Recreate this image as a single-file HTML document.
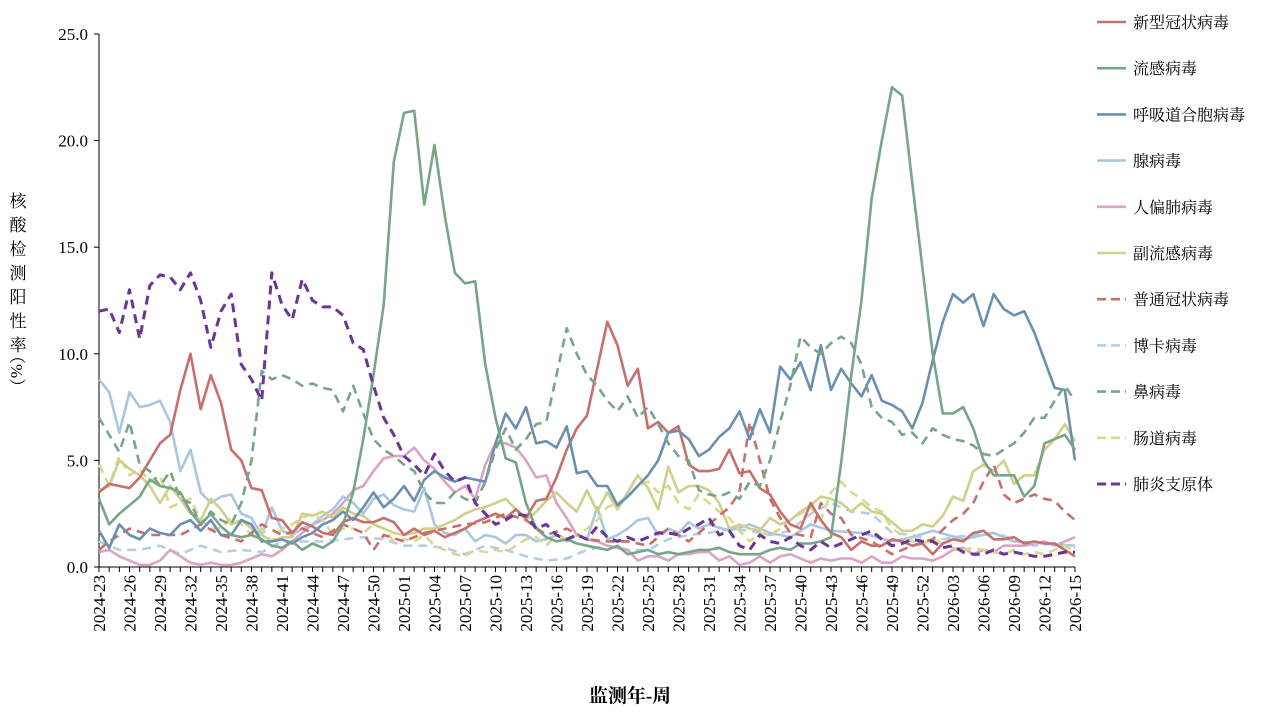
<!DOCTYPE html>
<html><head><meta charset="utf-8"><style>
html,body{margin:0;padding:0;background:#fff;}
svg text{font-family:"Liberation Serif","Noto Serif CJK SC",serif;}
</style></head><body>
<svg id="c" width="1270" height="714" xmlns="http://www.w3.org/2000/svg"></svg>
<script>
const S=document.getElementById('c');
const X0=99,DX=(1075-99)/96,Y0=567,DY=(567-34)/25;
const px=i=>X0+i*DX, py=v=>Y0-v*DY;
let h='';
h+=`<line x1="${X0}" y1="34" x2="${X0}" y2="567" stroke="#000" stroke-width="1"/>`;
h+=`<line x1="${X0}" y1="567" x2="1075" y2="567" stroke="#000" stroke-width="1"/>`;
for(let k=0;k<=5;k++){const y=py(k*5);h+=`<line x1="${X0-5}" y1="${y}" x2="${X0}" y2="${y}" stroke="#000"/>`;
h+=`<text x="${X0-11}" y="${y+6}" font-size="17" text-anchor="end">${(k*5).toFixed(1)}</text>`;}
for(let i=0;i<=96;i++){const x=px(i);h+=`<line x1="${x}" y1="567" x2="${x}" y2="572" stroke="#000"/>`;}
function lab(i){let y,w;if(i<30){y=2024;w=23+i}else if(i<82){y=2025;w=i-29}else{y=2026;w=i-81}return y+'-'+String(w).padStart(2,'0');}
for(let i=0;i<=96;i+=3){const x=px(i)+6;h+=`<text transform="translate(${x},575) rotate(-90)" font-size="17" text-anchor="end">${lab(i)}</text>`;}
[...'核酸检测阳性率'].forEach((c,k)=>{h+=`<text x="18" y="${207+k*24}" font-size="17" text-anchor="middle">${c}</text>`;});
h+=`<text transform="translate(11,347) rotate(90)" font-size="17">（%）</text>`;
h+=`<text x="630" y="702" font-size="19" text-anchor="middle" font-weight="bold">监测年-周</text>`;
function kf(pairs){const p=[];for(let k=0;k<pairs.length;k+=2)p.push([pairs[k],pairs[k+1]]);const out=[];for(let i=0;i<=96;i++){let j=0;while(j<p.length-1&&p[j+1][0]<i)j++;const a=p[j],b=p[Math.min(j+1,p.length-1)];if(i<=a[0]){out.push(a[1]);continue;}if(b[0]===a[0]){out.push(a[1]);continue;}out.push(a[1]+(b[1]-a[1])*(i-a[0])/(b[0]-a[0]));}return out;}
const D={
red:kf([0,3.5,1,3.9,2,3.8,3,3.7,4,4.2,5,5,6,5.8,7,6.2,8,8.3,9,10,10,7.4,11,9,12,7.7,13,5.5,14,5,15,3.7,16,3.6,17,2.3,18,2.2,19,1.6,20,2.1,21,1.9,22,1.6,23,1.5,24,2.1,25,2.3,26,2.1,27,2.1,28,2.3,29,2.1,30,1.5,31,1.8,32,1.5,33,1.7,34,1.4,35,1.6,36,1.8,37,2.1,38,2.3,39,2.5,40,2.3,41,2.7,42,2.3,43,3.1,44,3.2,45,4.2,46,5.5,47,6.5,48,7.1,49,9.3,50,11.5,51,10.4,52,8.5,53,9.3,54,6.5,55,6.8,56,6.3,57,6.6,58,4.8,59,4.5,60,4.5,61,4.6,62,5.5,63,4.4,64,4.5,65,3.7,66,3.4,67,2.6,68,2,69,1.8,70,3,71,2.2,72,1.6,73,1.4,74,0.8,75,1.2,76,1,77,1,78,1.3,79,1.2,80,1,81,1.1,82,0.6,83,1.1,84,1.3,85,1.2,86,1.6,87,1.7,88,1.3,89,1.3,90,1.4,91,1.1,92,1.2,93,1.1,94,1.1,95,0.8,96,0.5]),
flu:kf([0,3.2,1,2,2,2.5,3,2.9,4,3.3,5,4.1,6,3.8,7,3.7,8,3.5,9,2.6,10,2,11,2.5,12,1.9,13,1.5,14,1.4,15,1.5,16,1.3,17,1,18,0.9,19,1.2,20,0.8,21,1.1,22,0.9,23,1.2,24,2,25,3.5,26,6,27,9,28,12.3,29,19,30,21.3,31,21.4,32,17,33,19.8,34,16.5,35,13.8,36,13.3,37,13.4,38,9.5,39,7,40,5.1,41,4.9,42,3,43,1.8,44,1.4,45,1.2,46,1.3,47,1.1,48,1,49,0.9,50,0.8,51,1,52,0.6,53,0.7,54,0.8,55,0.6,56,0.7,57,0.6,58,0.7,59,0.8,60,0.8,61,0.9,62,0.7,63,0.6,64,0.6,65,0.6,66,0.8,67,0.9,68,0.8,69,1.1,70,1.1,71,1.2,72,1.4,73,4.9,74,9,75,12.5,76,17.3,77,20,78,22.5,79,22.1,80,18,81,14,82,10,83,7.2,84,7.2,85,7.5,86,6.5,87,5,88,4.3,89,4.3,90,4.3,91,3.3,92,3.8,93,5.8,94,6,95,6.2,96,5.5]),
rsv:kf([0,1.7,1,0.9,2,2,3,1.5,4,1.3,5,1.8,6,1.6,7,1.5,8,2,9,2.2,10,1.7,11,2.2,12,1.5,13,1.5,14,2.2,15,2,16,1.2,17,1.2,18,1.3,19,1.1,20,1.4,21,1.6,22,2,23,2.2,24,2.6,25,2.2,26,2.8,27,3.5,28,2.8,29,3.2,30,3.8,31,3.1,32,4.1,33,4.5,34,4.2,35,4,36,4.2,37,4.1,38,4,39,5.8,40,7.2,41,6.5,42,7.5,43,5.8,44,5.9,45,5.6,46,6.6,47,4.4,48,4.5,49,3.8,50,3.8,51,2.9,52,3.3,53,3.8,54,4.3,55,5,56,6.3,57,6.4,58,6,59,5.2,60,5.5,61,6.1,62,6.5,63,7.3,64,6,65,7.4,66,6.3,67,9.4,68,8.8,69,9.6,70,8.3,71,10.4,72,8.3,73,9.3,74,8.6,75,8,76,9,77,7.8,78,7.6,79,7.3,80,6.5,81,7.7,82,9.7,83,11.5,84,12.8,85,12.4,86,12.8,87,11.3,88,12.8,89,12.1,90,11.8,91,12,92,11,93,9.7,94,8.4,95,8.3,96,5.0]),
adv:kf([0,8.8,1,8.2,2,6.3,3,8.2,4,7.5,5,7.6,6,7.8,7,6.8,8,4.5,9,5.5,10,3.5,11,3,12,3.3,13,3.4,14,2.5,15,2.3,16,1.5,17,2.8,18,1.7,19,1.5,20,1.8,21,2,22,2.4,23,2.7,24,3.3,25,3,26,2.5,27,3.2,28,3.4,29,2.9,30,2.7,31,2.6,32,3.7,33,2,34,1.6,35,1.5,36,1.8,37,1.2,38,1.5,39,1.4,40,1.1,41,1.5,42,1.5,43,1.2,44,1.3,45,1.5,46,1.2,47,1.5,48,1.3,49,2.8,50,1.3,51,1.5,52,1.8,53,2.2,54,2.3,55,1.5,56,1.8,57,1.6,58,2.1,59,1.8,60,2,62,1.7,64,2,66,1.6,68,1.4,70,2,72,1.7,75,1.6,78,1.2,80,1.4,82,1.7,85,1.3,88,1.6,90,1.2,93,1.1,96,1]),
hmpv:kf([0,0.7,1,0.8,2,0.5,3,0.3,4,0.1,5,0.1,6,0.3,7,0.8,8,0.5,9,0.2,10,0.1,11,0.2,12,0.1,13,0.1,14,0.2,15,0.4,16,0.6,17,0.5,18,0.8,19,1.2,20,1.6,21,2,22,2.2,23,2.5,24,3,25,3.6,26,3.8,27,4.5,28,5.1,29,5.2,30,5.2,31,5.6,32,5,33,4.6,34,4,35,3.5,36,3.8,37,3.2,38,4.8,39,5.8,40,5.8,41,5.6,42,5,43,4.2,44,4.3,45,3,46,2.3,47,1.5,48,1.3,49,1.2,50,1,51,0.9,52,0.8,53,0.3,54,0.5,55,0.5,56,0.3,57,0.6,58,0.6,59,0.7,60,0.7,61,0.3,62,0.5,63,0.1,64,0.2,65,0.5,66,0.2,67,0.5,68,0.6,70,0.2,71,0.4,72,0.3,73,0.4,74,0.4,75,0.2,76,0.5,77,0.2,78,0.2,79,0.5,80,0.4,81,0.4,82,0.3,83,0.5,84,0.8,85,0.9,86,0.6,87,0.8,88,0.7,89,1,90,1,91,1,92,1.1,93,1.2,94,1,95,1.2,96,1.4]),
piv:kf([0,3.6,1,3.8,2,5,3,4.6,4,4.3,5,3.8,6,3,7,3.8,8,3.2,9,2.5,10,2.2,11,3.2,12,2.7,13,2,14,2.2,15,1.8,16,1.5,17,1.2,18,1.4,19,1.4,20,2.5,21,2.4,22,2.6,23,2.3,24,2.8,25,2.5,26,2.4,27,2,28,1.8,29,1.6,30,1.5,31,1.6,32,1.8,33,1.8,34,2,35,2.2,36,2.5,37,2.7,38,2.8,39,3,40,3.2,41,2.7,42,2.2,43,2.6,44,3.1,45,3.5,46,3,47,2.6,48,3.6,49,2.6,50,3.5,51,2.7,52,3.5,53,4.3,54,3.7,55,2.7,56,4.7,57,3.5,58,3.8,59,3.8,60,3.6,61,3,62,1.8,63,2,64,1.8,65,1.7,66,2.3,67,2,68,2.2,69,2.6,70,2.9,71,3.3,72,3.2,73,3,74,2.6,75,3,76,2.6,77,2.5,78,2.1,79,1.7,80,1.7,81,2,82,1.9,83,2.4,84,3.3,85,3.1,86,4.5,87,4.8,88,4.5,89,5,90,3.9,91,4.3,92,4.3,93,5.5,94,6,95,6.7,96,5.9]),
hcov:kf([0,0.8,1,1.2,3,1.8,5,1.5,8,1.5,10,2,12,1.5,14,1.2,16,2,18,1.5,20,1.8,22,1.4,24,2,26,1.6,27,0.8,28,1.5,30,1.2,32,1.6,34,1.8,36,2,38,2.1,40,2.5,42,2.2,44,1.5,46,1.8,48,1.3,50,1.2,52,1.2,54,1,56,1.8,58,1.2,60,2,62,2.8,63,3.5,64,6.8,65,5,66,3.2,67,2.3,68,1.6,70,1.4,71,3,72,2.5,73,2.3,74,1.5,76,1.2,78,0.6,80,1,82,1.3,84,2.2,85,2.5,86,3,87,4,88,4.8,89,3.4,90,3,91,3.2,92,3.4,93,3.2,94,3.1,95,2.6,96,2.2]),
boca:kf([0,1.2,2,0.8,4,0.8,6,1,8,0.6,10,1,12,0.7,14,0.8,16,0.7,18,1.2,20,1.2,22,1.2,24,1.3,26,1.4,28,1.3,30,1,32,1,34,0.9,36,0.6,38,1,40,0.8,42,0.5,44,0.3,46,0.4,48,0.8,50,1,52,0.8,54,0.8,56,1.3,58,1.5,60,1.6,62,1.8,64,1.7,66,1.5,68,1.7,70,2.5,72,3,74,2.6,76,2.5,78,1.6,80,1.5,82,1.2,84,1.4,86,1.5,88,1.6,90,1.3,92,1,94,1.1,96,0.9]),
rhino:kf([0,7,1,6.2,2,5.4,3,6.8,4,4.8,5,4.5,6,3.8,7,4.5,8,3.2,9,3,10,2,11,2.6,12,2.2,13,2,14,3,15,5,16,9.2,17,8.8,18,9,19,8.8,20,8.5,21,8.6,22,8.4,23,8.3,24,7.3,25,8.5,26,7.2,27,6,28,5.5,29,5.2,30,4.8,31,4.5,32,3.5,33,3,34,3,35,3.5,36,3.2,37,3,38,4,39,5.5,40,6.5,41,5.5,42,6,43,6.7,44,6.8,45,9,46,11.2,47,10,48,9,49,8.5,50,7.8,51,7.3,52,8,53,7,54,7.5,55,6.7,56,5.8,57,5.2,58,5,59,3.6,60,3.4,61,3.3,62,3.5,63,3.2,64,4,65,3.8,66,5,67,6.8,68,8.5,69,10.8,70,10.3,71,10,72,10.5,73,10.8,74,10.5,75,9.5,76,7.5,77,7,78,6.8,79,6.2,80,6.3,81,5.8,82,6.5,83,6.2,84,6,85,5.9,86,5.7,87,5.3,88,5.2,89,5.5,90,5.8,91,6.3,92,7,93,7,94,7.8,95,8.5,96,7.8]),
ev:kf([0,4.8,1,3.8,2,5.2,3,4.3,4,4.6,5,4,6,4.3,7,2.8,8,3,9,3.2,10,2.2,11,1.8,12,1.8,13,2.3,14,2,15,1.5,16,1.8,17,1.2,18,1.8,19,2,20,2.3,21,2.5,22,2.2,23,1.5,24,1.8,25,1.8,26,1.6,27,2,28,1.8,29,1.2,30,1.3,31,1.2,32,1.5,33,1,34,0.8,35,0.6,36,0.5,37,0.8,38,0.7,39,0.8,40,0.7,41,1,42,1.3,43,1.4,44,1,45,1.5,46,1.3,47,1.5,48,1.8,49,2.2,50,2.8,51,3,52,3.3,53,3.8,54,4,55,3.5,56,3.8,57,3,58,2.7,59,3.4,60,3,61,2.6,62,2.3,63,1.7,64,1.2,65,1.6,66,1.5,67,1.8,68,2.2,69,2.5,70,2.8,71,2.2,72,3.5,73,4,74,3.5,75,3.2,76,2.8,77,2.6,78,1.8,79,1.5,80,1.2,81,1.1,82,1.3,83,1.1,84,0.9,85,0.8,86,0.9,87,0.8,88,0.7,89,0.6,90,0.8,91,0.6,92,0.7,93,0.6,94,0.8,95,1,96,0.7]),
mp:kf([0,12,1,12.1,2,11,3,13,4,10.7,5,13.2,6,13.7,7,13.6,8,13,9,13.8,10,12.5,11,10.3,12,12,13,12.8,14,9.5,15,8.8,16,7.8,17,13.8,18,12.3,19,11.6,20,13.5,21,12.5,22,12.2,23,12.2,24,11.8,25,10.5,26,10.2,27,8.5,28,7,29,6.2,30,5.2,31,4.8,32,4.3,33,5.3,34,4.5,35,4,36,4.2,37,3,38,2.5,39,2,40,2.2,41,2.5,42,2.4,43,1.8,44,2,45,1.5,46,1.3,47,1.5,48,1.3,49,1.9,50,1.4,51,1.2,52,1.4,53,1.2,54,1.4,55,1.6,56,1.6,57,1.5,58,1.8,59,2,60,2.3,61,1.5,62,1.7,63,1,64,0.8,65,1.5,66,1.2,67,1.1,68,1.4,69,1,70,0.8,71,1.2,72,0.9,73,1.1,74,1.3,75,1.5,76,1.7,77,1.3,78,1,79,1.1,80,1.3,81,1.2,82,1.2,83,0.9,84,1,85,0.7,86,0.6,87,0.6,88,0.8,89,0.6,90,0.7,91,0.6,92,0.5,93,0.5,94,0.6,95,0.7,96,0.7])
};
const ser=[
['新型冠状病毒','red','#c86f6c',0],['流感病毒','flu','#77a587',0],['呼吸道合胞病毒','rsv','#6b8fb3',0],
['腺病毒','adv','#a9c7e0',0],['人偏肺病毒','hmpv','#dba3c6',0],['副流感病毒','piv','#cfd08a',0],
['普通冠状病毒','hcov','#c86f6c',1],['博卡病毒','boca','#b3cfe6',1],['鼻病毒','rhino','#77a587',1],
['肠道病毒','ev','#d8d98f',1],['肺炎支原体','mp','#6b3596',1]];
const order=['boca','hmpv','adv','ev','piv','hcov','red','rsv','rhino','flu','mp'];
order.forEach(k=>{const s=ser.find(z=>z[1]===k);const d=D[k].map((v,i)=>px(i).toFixed(1)+','+py(v).toFixed(1)).join(' ');
h+=`<polyline points="${d}" fill="none" stroke="${s[2]}" stroke-width="${k==='mp'?3:2.6}" ${s[3]?'stroke-dasharray="9,6"':''} stroke-linejoin="round"/>`;});
ser.forEach((s,k)=>{const y=22+k*46.2;h+=`<line x1="1097" y1="${y}" x2="1126" y2="${y}" stroke="${s[2]}" stroke-width="${s[1]==='mp'?3:2.6}" ${s[3]?'stroke-dasharray="9,5"':''}/>`;
h+=`<text x="1133" y="${y+6}" font-size="16">${s[0]}</text>`;});
S.innerHTML=h;
</script>
</body></html>
